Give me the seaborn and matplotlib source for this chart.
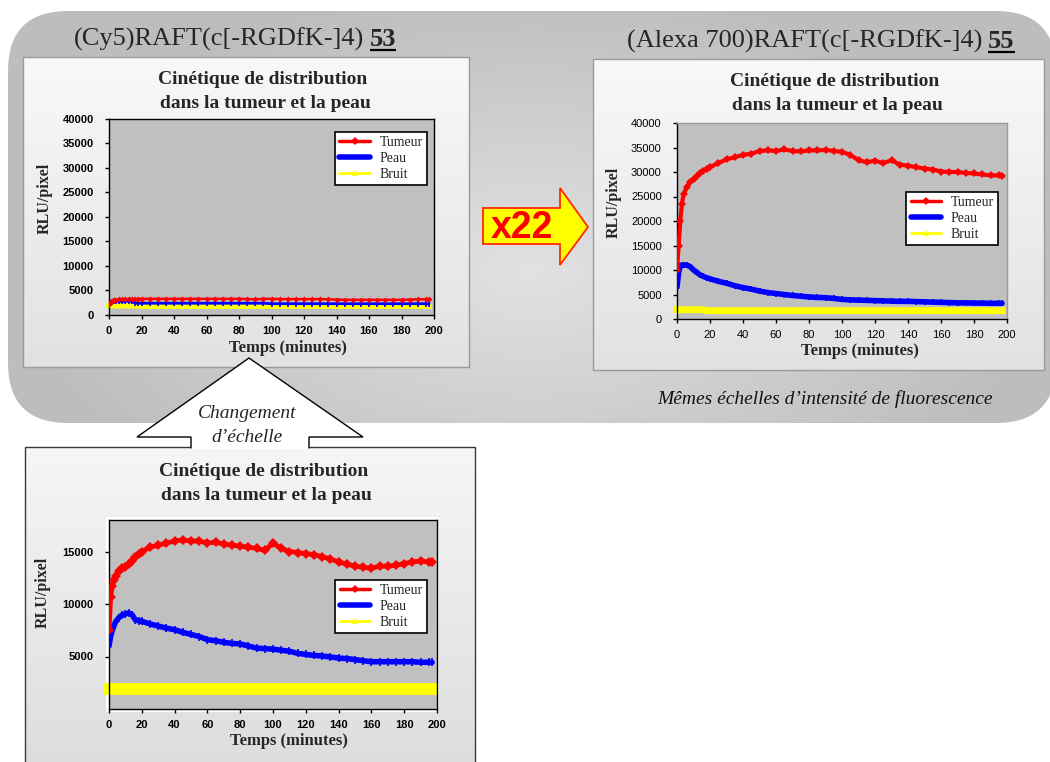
import numpy as np
import pandas as pd
import matplotlib
matplotlib.use("Agg")
import matplotlib.pyplot as plt
import seaborn as sns
from matplotlib.patches import FancyBboxPatch, Rectangle, Polygon
from matplotlib.lines import Line2D

# ---------------- data ----------------
T = [0, 1, 2, 3, 4, 6, 8, 10, 12, 14, 16, 18, 20, 25, 30, 35, 40, 45, 50, 55, 60,
     65, 70, 75, 80, 85, 90, 95, 100, 105, 110, 115, 120, 125, 130, 135, 140, 145,
     150, 155, 160, 165, 170, 175, 180, 185, 190, 195, 197]

# (Cy5) top-left, same scale
cy5_tumeur = [2300, 2700, 2900, 3000, 3100, 3200, 3200, 3250, 3250, 3300, 3200, 3250, 3300,
              3300, 3300, 3300, 3300, 3300, 3300, 3300, 3300, 3300, 3300, 3300, 3300, 3250,
              3200, 3300, 3300, 3250, 3250, 3250, 3250, 3250, 3250, 3200, 3150, 3100, 3100,
              3100, 3100, 3100, 3100, 3100, 3100, 3150, 3200, 3200, 3200]
cy5_peau = [2200, 2500, 2700, 2800, 2800, 2800, 2800, 2800, 2800, 2800, 2450, 2400, 2400,
            2400, 2400, 2400, 2400, 2400, 2400, 2400, 2400, 2400, 2400, 2400, 2400, 2400,
            2400, 2400, 2300, 2300, 2300, 2300, 2300, 2300, 2300, 2300, 2300, 2300, 2300,
            2300, 2300, 2300, 2300, 2300, 2300, 2300, 2300, 2300, 2300]
cy5_bruit = [1900, 1900, 1900, 1900, 1900, 1900, 1900, 1900, 1900, 1900, 1900, 1800, 1800,
             1800, 1800, 1800, 1800, 1800, 1800, 1800, 1800, 1800, 1800, 1800, 1800, 1800,
             1800, 1800, 1800, 1800, 1800, 1800, 1800, 1800, 1800, 1800, 1800, 1800, 1800,
             1800, 1800, 1800, 1800, 1800, 1800, 1800, 1800, 1800, 1800]

# (Alexa 700) top-right
alexa_tumeur = [10000, 15000, 20000, 23500, 25500, 27000, 28000, 28600, 29200, 29800, 30300,
                30700, 31000, 31800, 32600, 33000, 33500, 33700, 34300, 34400, 34300, 34600,
                34300, 34200, 34400, 34400, 34500, 34300, 34100, 33500, 32400, 32000, 32300,
                31800, 32400, 31500, 31300, 31000, 30700, 30500, 30100, 30000, 30000, 29800,
                29700, 29500, 29300, 29300, 29200]
alexa_peau = [6500, 9500, 10800, 11000, 11000, 11000, 10700, 10000, 9500, 9000, 8700, 8400,
              8200, 7700, 7300, 6800, 6400, 6100, 5700, 5400, 5200, 5000, 4800, 4650, 4500,
              4400, 4350, 4200, 4000, 3900, 3850, 3800, 3750, 3700, 3650, 3600, 3600, 3550,
              3500, 3450, 3400, 3350, 3300, 3300, 3250, 3250, 3200, 3200, 3200]
alexa_bruit = [1900, 1900, 1900, 1900, 1900, 1900, 1900, 1900, 1900, 1900, 1900, 1700, 1700,
               1700, 1700, 1700, 1700, 1700, 1700, 1700, 1700, 1700, 1700, 1700, 1700, 1700,
               1700, 1700, 1700, 1700, 1700, 1700, 1700, 1700, 1700, 1700, 1700, 1700, 1700,
               1700, 1700, 1700, 1700, 1700, 1700, 1700, 1700, 1700, 1700]

# (Cy5) bottom, rescaled
zoom_tumeur = [7500, 10700, 11700, 12300, 12700, 13100, 13400, 13550, 13800, 14100, 14500,
               14800, 15000, 15400, 15600, 15800, 16000, 16100, 16000, 16000, 15800, 15900,
               15700, 15600, 15500, 15400, 15300, 15100, 15800, 15300, 15000, 14900, 14800,
               14700, 14500, 14300, 14000, 13800, 13600, 13500, 13400, 13600, 13600, 13700,
               13850, 14000, 14100, 14000, 14000]
zoom_peau = [6000, 6900, 7500, 7900, 8300, 8700, 8950, 9050, 9150, 9000, 8500, 8400, 8350,
             8100, 7900, 7700, 7550, 7300, 7100, 6900, 6600, 6500, 6350, 6250, 6200, 6000,
             5800, 5750, 5700, 5600, 5500, 5300, 5200, 5100, 5050, 4950, 4850, 4800, 4700,
             4600, 4500, 4500, 4500, 4500, 4500, 4500, 4450, 4450, 4450]
zoom_bruit = [1950, 1950, 1950, 1950, 1950, 1950, 1950, 1950, 1950, 1950, 1950, 1950, 1950,
              1950, 1950, 1950, 1950, 1950, 1950, 1950, 1950, 1950, 1950, 1950, 1950, 1950,
              1950, 1950, 1950, 1950, 1950, 1950, 1950, 1950, 1950, 1950, 1950, 1950, 1950,
              1950, 1950, 1950, 1950, 1950, 1950, 1950, 1950, 1950, 1950]

series_labels = ["Tumeur", "Peau", "Bruit"]
x_ticks = [0, 20, 40, 60, 80, 100, 120, 140, 160, 180, 200]
y_ticks_full = [0, 5000, 10000, 15000, 20000, 25000, 30000, 35000, 40000]
y_ticks_zoom = [5000, 10000, 15000]

main_title_left = "(Cy5)RAFT(c[-RGDfK-]4)"
main_title_left_num = "53"
main_title_right = "(Alexa 700)RAFT(c[-RGDfK-]4)"
main_title_right_num = "55"
chart_title_1 = "Cinétique de distribution"
chart_title_2 = "dans la tumeur et la peau"
xlab = "Temps (minutes)"
ylab = "RLU/pixel"

# ---------------- figure ----------------
sns.set_style("white")
plt.rcParams['font.family'] = ['Liberation Sans', 'DejaVu Sans']
SERIF = ['Liberation Serif', 'DejaVu Serif']
SANS = ['Liberation Sans', 'DejaVu Sans']

W, H = 1050, 762
fig = plt.figure(figsize=(10.5, 7.62), dpi=100)
fig.patch.set_facecolor('white')
bg = fig.add_axes([0, 0, 1, 1])
bg.axis('off')

# big rounded grey panel with soft radial gradient
yy, xx = np.mgrid[0:H:2, 0:W:2]
r = np.sqrt(((xx - 530) / 540.0) ** 2 + ((yy - 270) / 300.0) ** 2)
val = np.clip(0.885 - 0.15 * r, 0.745, 0.885)
img = np.dstack([val, val, val])
im = bg.imshow(img, extent=[0, W, H, 0], origin='upper', aspect='auto',
               interpolation='bilinear', zorder=0)
panel = FancyBboxPatch((8, 11), 1048, 412, boxstyle="round,pad=0,rounding_size=60",
                       facecolor='none', edgecolor='none', transform=bg.transData)
bg.add_patch(panel)
im.set_clip_path(panel)


def gbox(x0, y0, x1, y1, c0, c1, ec, lw=1.0):
    g = np.linspace(c0, c1, 64)[:, None]
    gi = np.dstack([g, g, g])
    bg.imshow(gi, extent=[x0, x1, y1, y0], origin='upper', aspect='auto',
              interpolation='bilinear', zorder=1)
    bg.add_patch(Rectangle((x0, y0), x1 - x0, y1 - y0, fill=False, edgecolor=ec,
                           lw=lw, zorder=2))


gbox(23, 57, 469, 367, 0.975, 0.885, '#9a9a9a')
gbox(593, 59, 1044, 370, 0.975, 0.885, '#9a9a9a')
gbox(25, 447, 475, 775, 0.965, 0.865, '#3a3a3a')
bg.add_patch(Rectangle((106, 517), 333, 195, facecolor='white', edgecolor='none', zorder=2))

# callout "Changement d'échelle"
callout = Polygon([(137, 437), (249, 358), (363, 437), (309, 437), (309, 449), (191, 449),
                   (191, 437)], closed=True, facecolor='white', edgecolor='none', zorder=3)
bg.add_patch(callout)
bg.plot([191, 191, 137, 249, 363, 309, 309], [448, 437, 437, 358, 437, 437, 448],
        color='black', lw=1.0, zorder=4, solid_joinstyle='miter')
bg.text(247, 413, "Changement", ha='center', va='center', family=SERIF, style='italic',
        fontsize=14, zorder=5)
bg.text(247, 437, "d\u2019échelle", ha='center', va='center', family=SERIF, style='italic',
        fontsize=14, zorder=5)

# x22 arrow
arrow = Polygon([(483, 208), (560, 208), (560, 188), (588, 227), (560, 265), (560, 244),
                 (483, 244)], closed=True, facecolor='#ffff00', edgecolor='#ff2a00',
                lw=1.3, zorder=3)
bg.add_patch(arrow)
bg.text(522, 228, "x22", ha='center', va='center', family=SANS, weight='bold',
        fontsize=27, color='#ff0000', zorder=4)

# caption
bg.text(825, 399, "Mêmes échelles d\u2019intensité de fluorescence", ha='center',
        va='center', family=SERIF, style='italic', fontsize=14, color='#111111', zorder=4)

bg.set_xlim(0, W)
bg.set_ylim(H, 0)


# main titles
def main_title(text, num, x_num, y_base, ul_y, size):
    bg.text(x_num - 6, y_base, text, ha='right', va='baseline', family=SERIF,
            fontsize=size, zorder=4)
    t = bg.text(x_num, y_base, num, ha='left', va='baseline', family=SERIF,
                weight='bold', fontsize=size, zorder=4)
    fig.canvas.draw()
    bb = t.get_window_extent(fig.canvas.get_renderer())
    bg.plot([bb.x0, bb.x1], [ul_y, ul_y], color='black', lw=1.6, zorder=4,
            solid_capstyle='butt')


main_title(main_title_left, main_title_left_num, 370, 46, 49.5, 19)
main_title(main_title_right, main_title_right_num, 988, 48, 52, 19)

# chart titles & axis labels (as text on the background)
for (cx1, cy1, cx2, cy2) in [(263, 79, 265, 103), (835, 82, 837, 106), (264, 472, 266, 496)]:
    bg.text(cx1, cy1, chart_title_1, ha='center', va='center', family=SERIF,
            weight='bold', fontsize=14, zorder=4)
    bg.text(cx2, cy2, chart_title_2, ha='center', va='center', family=SERIF,
            weight='bold', fontsize=14, zorder=4)
for (lx, ly) in [(288, 348), (860, 351), (289, 741)]:
    bg.text(lx, ly, xlab, ha='center', va='center', family=SERIF, weight='bold',
            fontsize=12, zorder=4)
for (lx, ly) in [(45, 198), (614, 202), (43, 592)]:
    bg.text(lx, ly, ylab, ha='center', va='center', family=SERIF, weight='bold',
            fontsize=11.5, rotation=90, zorder=4)
bg.set_xlim(0, W)
bg.set_ylim(H, 0)


def mkax(x0, y0, x1, y1):
    return fig.add_axes([x0 / W, 1 - y1 / H, (x1 - x0) / W, (y1 - y0) / H])


def draw_chart(ax, tum, peau, bruit, ylim, yticks, style, legend_anchor, bold_ticks=True,
               spine_col='black'):
    df = pd.DataFrame({"Temps": T, "Tumeur": tum, "Peau": peau, "Bruit": bruit})
    ax.set_facecolor('#c0c0c0')
    sns.lineplot(data=df, x="Temps", y="Bruit", color='#ffff00', lw=style['bw'], ax=ax,
                 solid_capstyle='projecting', clip_on=False, zorder=2)
    sns.lineplot(data=df, x="Temps", y="Peau", color='#0000ff', lw=style['pw'], ax=ax,
                 marker=style['pm'], markersize=style['pms'], markeredgewidth=1.2,
                 markeredgecolor='#0000ff', zorder=3)
    sns.lineplot(data=df, x="Temps", y="Tumeur", color='#ff0000', lw=style['tw'], ax=ax,
                 marker='D', markersize=style['tms'], markeredgewidth=0,
                 markerfacecolor='#ff0000', zorder=4)
    ax.set_xlim(0, 200)
    ax.set_ylim(*ylim)
    ax.set_xticks(x_ticks)
    ax.set_yticks(yticks)
    ax.set_xlabel("")
    ax.set_ylabel("")
    ax.grid(False)
    for s in ax.spines.values():
        s.set_color(spine_col)
        s.set_linewidth(1.0)
    ax.spines['left'].set_color('black')
    ax.spines['bottom'].set_color('black')
    ax.tick_params(axis='y', direction='out', length=3, width=1, pad=8, labelsize=8,
                   left=True, colors='black')
    ax.tick_params(axis='x', direction='out', length=3, width=1, pad=5, labelsize=8,
                   bottom=True, colors='black')
    for lab in ax.get_xticklabels() + ax.get_yticklabels():
        lab.set_family(SANS)
        lab.set_fontweight('bold' if bold_ticks else 'normal')
    handles = [Line2D([0], [0], color='#ff0000', lw=2.5, marker='D', ms=4, mew=0),
               Line2D([0], [0], color='#0000ff', lw=4),
               Line2D([0], [0], color='#ffff00', lw=2, marker='^', ms=5, mew=0)]
    leg = ax.legend(handles, series_labels, loc='upper right', bbox_to_anchor=legend_anchor,
                    frameon=True, fancybox=False, edgecolor='black', framealpha=1,
                    facecolor='white', prop={'family': SERIF, 'size': 10},
                    handlelength=2.2, borderpad=0.3, labelspacing=0.2, handletextpad=0.7,
                    borderaxespad=0)
    leg.get_frame().set_linewidth(1.2)
    return ax


ax1 = mkax(109, 119, 434, 315)
draw_chart(ax1, cy5_tumeur, cy5_peau, cy5_bruit, (0, 40000), y_ticks_full,
           dict(bw=4, pw=2, pm='|', pms=4, tw=1.8, tms=3), (0.978, 0.934))

ax2 = mkax(677, 123, 1007, 319)
draw_chart(ax2, alexa_tumeur, alexa_peau, alexa_bruit, (0, 40000), y_ticks_full,
           dict(bw=5, pw=4, pm='|', pms=5, tw=3, tms=4), (0.973, 0.648), bold_ticks=False,
           spine_col='#9a9a9a')

ax3 = mkax(109, 520, 437, 709)
draw_chart(ax3, zoom_tumeur, zoom_peau, zoom_bruit, (0, 18000), y_ticks_zoom,
           dict(bw=8.5, pw=4, pm='|', pms=6, tw=3.5, tms=5), (0.970, 0.683))
ax3.set_xticks(np.arange(0, 197, 10 / 3.0), minor=True)
ax3.tick_params(axis='x', which='minor', direction='in', length=3, width=1, colors='black')

fig.savefig("out.png", dpi=100, facecolor='white')
